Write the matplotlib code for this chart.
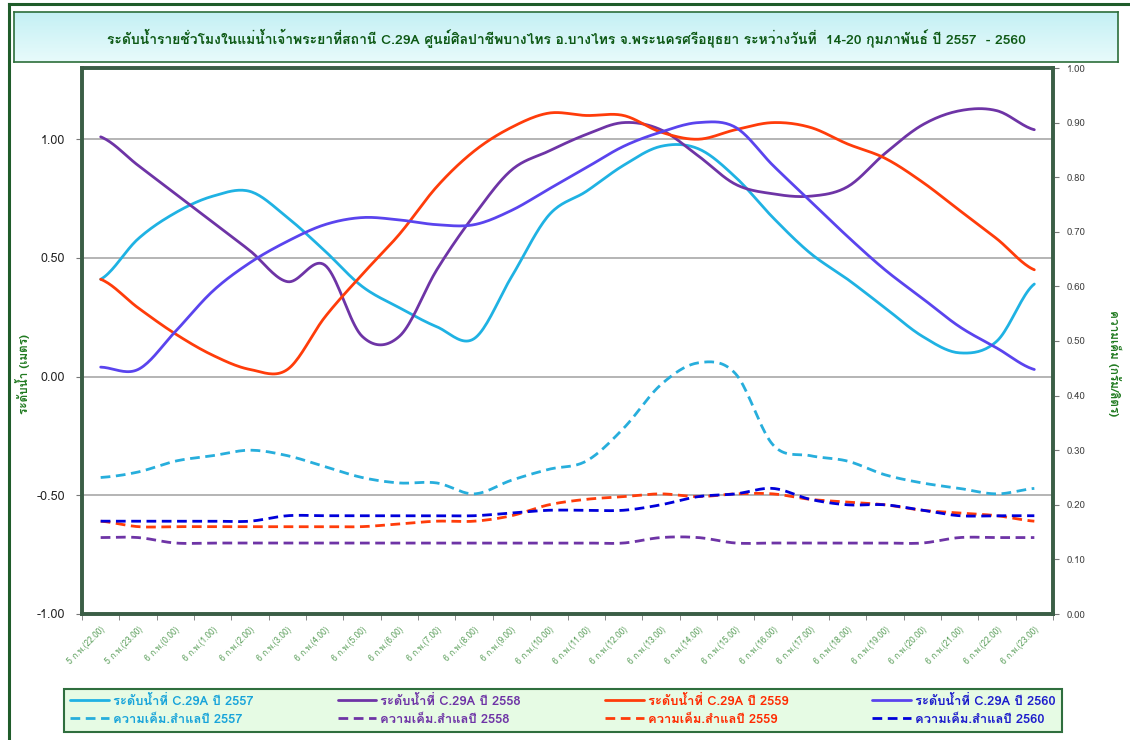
import matplotlib
matplotlib.use("Agg")
import matplotlib.pyplot as plt
import numpy as np
from matplotlib import font_manager
from matplotlib.ft2font import FT2Font
from matplotlib.lines import Line2D

# hourly readings, 5 Feb 22:00 .. 6 Feb 23:00
hours = ["5 ก.พ.(22.00)", "5 ก.พ.(23.00)"] + ["6 ก.พ.(%d.00)" % h for h in range(24)]

# water level (m), left axis
level_2557 = [0.41, 0.58, 0.69, 0.76, 0.78, 0.67, 0.53, 0.38, 0.29, 0.21, 0.16, 0.42, 0.68,
              0.78, 0.89, 0.97, 0.96, 0.84, 0.67, 0.52, 0.41, 0.29, 0.17, 0.10, 0.15, 0.39]
level_2558 = [1.01, 0.89, 0.77, 0.65, 0.53, 0.40, 0.47, 0.17, 0.17, 0.45, 0.68, 0.87, 0.95,
              1.02, 1.07, 1.04, 0.93, 0.81, 0.77, 0.76, 0.80, 0.94, 1.06, 1.12, 1.12, 1.04]
level_2559 = [0.41, 0.29, 0.18, 0.09, 0.03, 0.03, 0.25, 0.43, 0.60, 0.80, 0.95, 1.05, 1.11,
              1.10, 1.10, 1.03, 1.00, 1.04, 1.07, 1.05, 0.98, 0.92, 0.82, 0.70, 0.58, 0.45]
level_2560 = [0.04, 0.03, 0.19, 0.36, 0.48, 0.57, 0.64, 0.67, 0.66, 0.64, 0.64, 0.70, 0.79,
              0.88, 0.97, 1.03, 1.07, 1.05, 0.89, 0.74, 0.59, 0.45, 0.33, 0.21, 0.12, 0.03]

# salinity (g/l), right axis
salt_2557 = [0.25, 0.26, 0.28, 0.29, 0.30, 0.29, 0.27, 0.25, 0.24, 0.24, 0.22, 0.245, 0.265,
             0.28, 0.34, 0.42, 0.46, 0.44, 0.31, 0.29, 0.28, 0.255, 0.24, 0.23, 0.22, 0.23]
salt_2558 = [0.14, 0.14, 0.13, 0.13, 0.13, 0.13, 0.13, 0.13, 0.13, 0.13, 0.13, 0.13, 0.13,
             0.13, 0.13, 0.14, 0.14, 0.13, 0.13, 0.13, 0.13, 0.13, 0.13, 0.14, 0.14, 0.14]
salt_2559 = [0.17, 0.16, 0.16, 0.16, 0.16, 0.16, 0.16, 0.16, 0.165, 0.17, 0.17, 0.18, 0.20,
             0.21, 0.215, 0.22, 0.215, 0.22, 0.22, 0.21, 0.205, 0.20, 0.19, 0.185, 0.18, 0.17]
salt_2560 = [0.17, 0.17, 0.17, 0.17, 0.17, 0.18, 0.18, 0.18, 0.18, 0.18, 0.18, 0.185, 0.19,
             0.19, 0.19, 0.20, 0.215, 0.22, 0.23, 0.21, 0.20, 0.20, 0.19, 0.18, 0.18, 0.18]

years = ["2557", "2558", "2559", "2560"]
line_colors = ["#1FB2E3", "#6E34A6", "#FF3C0A", "#5A44EE"]
dash_colors = ["#27AEDC", "#6E34A6", "#FF3C0A", "#0000DA"]
text_colors = ["#18A4DA", "#6E34A6", "#FF2A00", "#1C1CCC"]


def thai_font():
    for f in font_manager.fontManager.ttflist:
        try:
            if 0x0E01 in FT2Font(f.fname).get_charmap():
                return f.name
        except Exception:
            pass
    return "DejaVu Sans"


plt.rcParams["font.family"] = [thai_font(), "DejaVu Sans"]


def smooth(y, n=20):
    # Catmull-Rom curve through the points, like a spreadsheet "smoothed line"
    y = np.asarray(y, float)
    p = np.concatenate([[y[0]], y, [y[-1]]])
    xs, ys = [], []
    t = np.linspace(0, 1, n, endpoint=False)
    for i in range(len(y) - 1):
        p0, p1, p2, p3 = p[i], p[i + 1], p[i + 2], p[i + 3]
        seg = 0.5 * (2 * p1 + (-p0 + p2) * t + (2 * p0 - 5 * p1 + 4 * p2 - p3) * t ** 2
                     + (-p0 + 3 * p1 - 3 * p2 + p3) * t ** 3)
        xs.append(i + t)
        ys.append(seg)
    xs.append([len(y) - 1])
    ys.append([y[-1]])
    return np.concatenate(xs), np.concatenate(ys)


fig = plt.figure(figsize=(11.3, 7.4), dpi=100)
fig.patch.set_facecolor("white")

# outer frame
fig.add_artist(Line2D([0.008, 0.008], [0, 0.995], color="#1F5C2A", lw=2.2))
fig.add_artist(Line2D([0.008, 1.0], [0.995, 0.995], color="#1F5C2A", lw=2.2))

# title banner
tax = fig.add_axes([14 / 1130, 1 - 62 / 740, 1104 / 1130, 50 / 740])
grad = np.linspace(0, 1, 100).reshape(-1, 1)
tax.imshow(grad, aspect="auto", cmap=matplotlib.colors.LinearSegmentedColormap.from_list(
    "banner", ["#C4F0F4", "#E8FBFB"]), extent=[0, 1, 0, 1])
tax.set_xticks([])
tax.set_yticks([])
for s in tax.spines.values():
    s.set_color("#2C6E3A")
    s.set_linewidth(1.2)
tax.text(0.5, 0.48, "ระดับน้ำรายชั่วโมงในแม่น้ำเจ้าพระยาที่สถานี C.29A ศูนย์ศิลปาชีพบางไทร อ.บางไทร "
         "จ.พระนครศรีอยุธยา ระหว่างวันที่  14-20 กุมภาพันธ์ ปี 2557  - 2560",
         ha="center", va="center", fontsize=10, fontweight="bold", color="#0E5A16")

ax = fig.add_axes([82 / 1130, 1 - 614 / 740, 971 / 1130, 546 / 740])
ax2 = ax.twinx()
x = np.arange(len(hours))

levels = [level_2557, level_2558, level_2559, level_2560]
salts = [salt_2557, salt_2558, salt_2559, salt_2560]
handles, labels = [], []
for yr, lv, sl, lc, dc in zip(years, levels, salts, line_colors, dash_colors):
    sx, sy = smooth(lv)
    h1, = ax.plot(sx, sy, color=lc, lw=2.0, solid_capstyle="round")
    sx, sy = smooth(sl)
    h2, = ax2.plot(sx, sy, color=dc, lw=2.0, dashes=(3.5, 2.0))
    handles += [h1, h2]
    labels += ["ระดับน้ำที่ C.29A ปี " + yr, "ความเค็ม.สำแลปี " + yr]

ax.set_xlim(-0.5, len(hours) - 0.5)
ax.set_ylim(-1.0, 1.3)
ax2.set_ylim(0, 1.0)
ax.set_yticks([-1.0, -0.5, 0.0, 0.5, 1.0])
ax.set_yticklabels(["%.2f" % v for v in [-1.0, -0.5, 0.0, 0.5, 1.0]], fontsize=9, color="#222222")
ax.yaxis.grid(True, color="#A8A8A8", lw=1.2)
ax.set_axisbelow(True)
ax2.set_yticks(np.arange(0, 1.01, 0.1))
ax2.set_yticklabels(["%.2f" % v for v in np.arange(0, 1.01, 0.1)], fontsize=7, color="#444444")

ax.set_xticks(x)
ax.set_xticklabels(hours, rotation=45, ha="right", rotation_mode="anchor",
                   fontsize=6, color="#5DA05D")
ax.set_xticks(np.arange(-0.5, len(hours), 1), minor=True)
ax.tick_params(axis="x", which="major", length=0, pad=8)
ax.tick_params(axis="x", which="minor", length=4, color="#777777")
ax.tick_params(axis="y", length=4, color="#777777", pad=8)
ax2.tick_params(axis="y", length=4, color="#777777", pad=6)

for a in (ax, ax2):
    for s in a.spines.values():
        s.set_color("#3B5E46")
        s.set_linewidth(2.6)

ax.set_ylabel("ระดับน้ำ (เมตร)", fontsize=8.5, color="#207A20", fontweight="bold")
ax.yaxis.set_label_coords(-0.054, 0.44)
ax2.set_ylabel("ความเค็ม (กรัม/ลิตร)", fontsize=8.5, color="#207A20", fontweight="bold",
               rotation=-90, va="center")
ax2.yaxis.set_label_coords(1.064, 0.46)

leg = fig.legend(handles, labels, loc="lower left", ncol=4, mode="expand",
                 bbox_to_anchor=(58 / 1130, 1 - 738 / 740, 1010 / 1130, 55 / 740),
                 fontsize=9.3, handlelength=3.0, handletextpad=0.3, columnspacing=1.0,
                 labelspacing=0.4, borderpad=0.45, fancybox=False, framealpha=1)
leg.get_frame().set_facecolor("#E6FBE4")
leg.get_frame().set_edgecolor("#2F6E3E")
leg.get_frame().set_linewidth(1.5)
for t, c in zip(leg.get_texts(), [c for c in text_colors for _ in range(2)]):
    t.set_color(c)
    t.set_fontweight("bold")

fig.savefig("out.png", dpi=100)
